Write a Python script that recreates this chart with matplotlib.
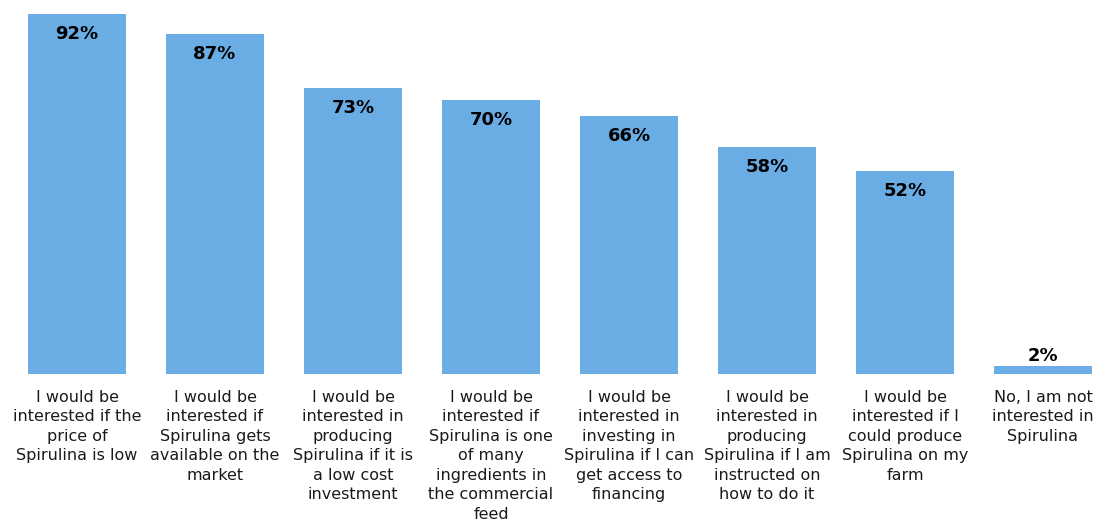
import matplotlib
matplotlib.use("Agg")
import matplotlib.pyplot as plt

categories = [
    "I would be\ninterested if the\nprice of\nSpirulina is low",
    "I would be\ninterested if\nSpirulina gets\navailable on the\nmarket",
    "I would be\ninterested in\nproducing\nSpirulina if it is\na low cost\ninvestment",
    "I would be\ninterested if\nSpirulina is one\nof many\ningredients in\nthe commercial\nfeed",
    "I would be\ninterested in\ninvesting in\nSpirulina if I can\nget access to\nfinancing",
    "I would be\ninterested in\nproducing\nSpirulina if I am\ninstructed on\nhow to do it",
    "I would be\ninterested if I\ncould produce\nSpirulina on my\nfarm",
    "No, I am not\ninterested in\nSpirulina",
]
values = [92, 87, 73, 70, 66, 58, 52, 2]

plt.rcParams['font.family'] = ['DejaVu Sans']
fig = plt.figure(figsize=(10.98, 5.2), dpi=100)
ax = fig.add_axes([0, (520 - 374) / 520, 1, 374 / 520])
x = list(range(len(values)))
bars = ax.bar(x, values, width=98 / 138, color='#6AACE4')
ax.set_xlim(-77 / 138, (1098 - 77) / 138)
ax.set_ylim(0, 374 / 3.913)
for xi, v in zip(x, values):
    if v > 10:
        ax.annotate(f"{v}%", (xi, v), xytext=(0, -14.5), textcoords='offset points',
                    ha='center', va='center', fontsize=13, fontweight='bold', color='black')
    else:
        ax.annotate(f"{v}%", (xi, v), xytext=(0, 7.5), textcoords='offset points',
                    ha='center', va='center', fontsize=13, fontweight='bold', color='black')
ax.set_xticks(x)
ax.set_xticklabels(categories, fontsize=11.5, linespacing=1.37, color='#1a1a1a')
ax.tick_params(axis='x', length=0, pad=11.5)
ax.set_yticks([])
for s in ax.spines.values():
    s.set_visible(False)
fig.savefig("out.png", dpi=100)
